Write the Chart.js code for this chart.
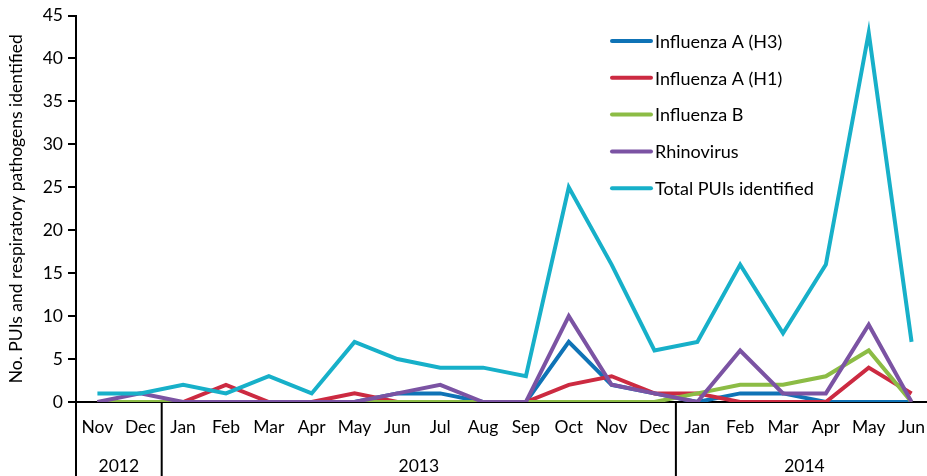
<!DOCTYPE html>
<html>
<head>
<meta charset="utf-8">
<script src="https://cdn.jsdelivr.net/npm/chart.js@4/dist/chart.umd.min.js"></script>
<style>
  html, body { margin: 0; padding: 0; background: #fff; overflow: hidden; }
  #wrap { width: 940px; height: 476px; }
</style>
</head>
<body>
<div id="wrap"><canvas id="puiChart" width="940" height="476"></canvas></div>
<script>
const months = ['Nov', 'Dec', 'Jan', 'Feb', 'Mar', 'Apr', 'May', 'Jun', 'Jul', 'Aug', 'Sep', 'Oct', 'Nov', 'Dec',
    'Jan', 'Feb', 'Mar', 'Apr', 'May', 'Jun'];
const years = ['2012', '2013', '2014'];
const monthsPerYear = [2, 12, 6];

const fluH3 = [0, 0, 0, 0, 0, 0, 0, 1, 1, 0, 0, 7, 2, 1, 0, 1, 1, 0, 0, 0];
const fluH1 = [0, 0, 0, 2, 0, 0, 1, 0, 0, 0, 0, 2, 3, 1, 1, 0, 0, 0, 4, 1];
const fluB = [0, 0, 0, 0, 0, 0, 0, 0, 0, 0, 0, 0, 0, 0, 1, 2, 2, 3, 6, 0];
const rhino = [0, 1, 0, 0, 0, 0, 0, 1, 2, 0, 0, 10, 2, 1, 0, 6, 1, 1, 9, 0];
const totalPUI = [1, 1, 2, 1, 3, 1, 7, 5, 4, 4, 3, 25, 16, 6, 7, 16, 8, 16, 43, 7];

const seriesNames = ['Influenza A (H3)', 'Influenza A (H1)', 'Influenza B', 'Rhinovirus', 'Total PUIs identified'];
const seriesColors = ['#0f73b6', '#cc2a41', '#8cbc45', '#7b53a3', '#17b0c9'];
const seriesData = [fluH3, fluH1, fluB, rhino, totalPUI];

const fontFam = 'Lato, "Open Sans", sans-serif';

// legend drawn inside the plot, top right
const sideLegend = {
    id: 'sideLegend',
    afterDraw(chart) {
        const ctx = chart.ctx;
        ctx.save();
        ctx.font = '18px ' + fontFam;
        ctx.textBaseline = 'middle';
        ctx.textAlign = 'left';
        ctx.lineCap = 'round';
        seriesNames.forEach((name, i) => {
            const y = 41 + i * 36.8;
            ctx.strokeStyle = seriesColors[i];
            ctx.lineWidth = 4;
            ctx.beginPath();
            ctx.moveTo(612, y);
            ctx.lineTo(651, y);
            ctx.stroke();
            ctx.fillStyle = '#000';
            ctx.fillText(name, 655, y + 1);
        });
        ctx.restore();
    }
};

// year row under the months, with separators
const yearRow = {
    id: 'yearRow',
    afterDraw(chart) {
        const ctx = chart.ctx;
        const x = chart.scales.x;
        const bottom = chart.chartArea.bottom;
        const h = chart.height;
        ctx.save();
        ctx.strokeStyle = '#000';
        ctx.lineWidth = 2;
        ctx.beginPath();
        ctx.moveTo(chart.chartArea.left, bottom);
        ctx.lineTo(chart.chartArea.left, h);
        ctx.stroke();
        ctx.font = '17.5px ' + fontFam;
        ctx.fillStyle = '#000';
        ctx.textAlign = 'center';
        ctx.textBaseline = 'middle';
        let start = 0;
        years.forEach((yr, i) => {
            const end = start + monthsPerYear[i] - 1;
            const cx = (x.getPixelForValue(start) + x.getPixelForValue(end)) / 2;
            ctx.fillText(yr, cx, 466);
            if (i < years.length - 1) {
                const sx = (x.getPixelForValue(end) + x.getPixelForValue(end + 1)) / 2;
                ctx.beginPath();
                ctx.moveTo(sx, bottom);
                ctx.lineTo(sx, h);
                ctx.stroke();
            }
            start = end + 1;
        });
        ctx.restore();
    }
};

const ctx = document.getElementById('puiChart').getContext('2d');

new Chart(ctx, {
    type: 'line',
    data: {
        labels: months,
        datasets: seriesData.map((d, i) => ({
            label: seriesNames[i],
            data: d,
            borderColor: seriesColors[i],
            backgroundColor: seriesColors[i],
            borderWidth: 4,
            pointRadius: 0,
            tension: 0,
            fill: false,
            order: 5 - i
        }))
    },
    plugins: [sideLegend, yearRow],
    options: {
        responsive: false,
        animation: false,
        layout: { padding: { top: 14, right: 4, left: 0, bottom: 0 } },
        plugins: {
            legend: { display: false },
            tooltip: { enabled: false }
        },
        scales: {
            x: {
                offset: true,
                grid: { display: false, drawTicks: false },
                border: { color: '#000', width: 2 },
                ticks: {
                    color: '#000',
                    font: { family: fontFam, size: 17.5 },
                    padding: 15,
                    maxRotation: 0,
                    autoSkip: false
                },
                afterFit(scale) { scale.height = 74; }
            },
            y: {
                min: 0,
                max: 45,
                grid: { drawOnChartArea: false, drawTicks: true, tickLength: 8, color: '#000', lineWidth: 2 },
                border: { color: '#000', width: 2 },
                ticks: {
                    stepSize: 5,
                    color: '#000',
                    font: { family: fontFam, size: 17.5 },
                    padding: 5
                },
                title: {
                    display: true,
                    text: 'No. PUIs and respiratory pathogens identified',
                    color: '#000',
                    font: { family: fontFam, size: 17.5 },
                    padding: { top: 6, bottom: 4 }
                },
                afterFit(scale) { scale.width = 76; }
            }
        }
    }
});
</script>
</body>
</html>
